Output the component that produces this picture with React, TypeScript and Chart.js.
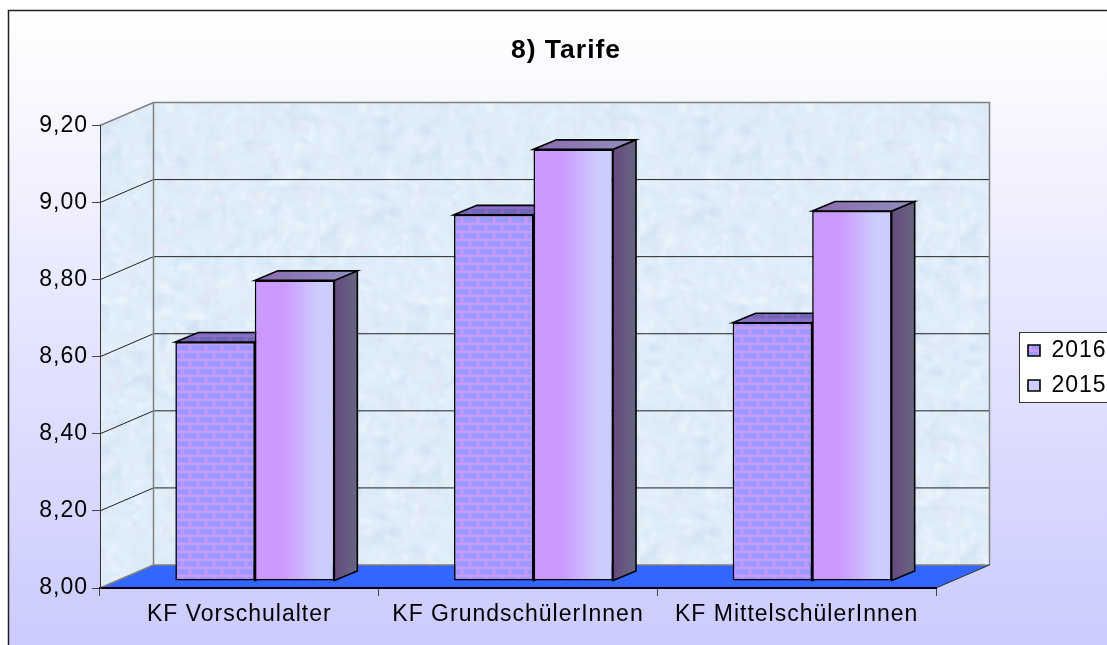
import React, { useEffect, useRef } from "react";
import { Chart, registerables } from "chart.js";

Chart.register(...registerables);

const categories = ["KF Vorschulalter", "KF GrundschülerInnen", "KF MittelschülerInnen"];
const seriesNames = ["2016", "2015"];
const values2016 = [8.62, 8.95, 8.67];
const values2015 = [8.78, 9.12, 8.96];
const titleText = "8) Tarife";
const yMin = 8;
const yMax = 9.2;
const yStep = 0.2;

const FONT = "'Liberation Sans', Arial, sans-serif";
const WALL_DX = 53.5;
const WALL_DY = 23;
const BAR_DX = 15.5;
const BAR_DY = 7;
const SIDE_DX = 23;
const SIDE_DY = 9.5;
const EDGE = 1.6;

function brickPattern(ctx: CanvasRenderingContext2D, mortar: string, brick: string) {
  const c = document.createElement("canvas");
  c.width = 16;
  c.height = 16;
  const g = c.getContext("2d")!;
  g.fillStyle = mortar;
  g.fillRect(0, 0, 16, 16);
  g.fillStyle = brick;
  g.fillRect(0, 0, 13.5, 5.5);
  g.fillRect(8, 8, 13.5, 5.5);
  g.fillRect(-8, 8, 13.5, 5.5);
  return ctx.createPattern(c, "repeat")!;
}

function marblePattern(ctx: CanvasRenderingContext2D) {
  const c = document.createElement("canvas");
  c.width = 320;
  c.height = 320;
  const g = c.getContext("2d")!;
  g.fillStyle = "#e0eefa";
  g.fillRect(0, 0, 320, 320);
  let s = 12345;
  const next = () => {
    s = (s * 1103515245 + 12345) & 0x7fffffff;
    return s / 0x7fffffff;
  };
  const tones = ["#cddff2", "#f0f8fe", "#d8e6f6", "#eaf5fc", "#e6e4f4", "#d6e9f4"];
  g.filter = "blur(1.6px)";
  for (let i = 0; i < 1500; i++) {
    g.globalAlpha = 0.25 + next() * 0.3;
    g.fillStyle = tones[Math.floor(next() * tones.length)];
    g.beginPath();
    g.ellipse(next() * 320, next() * 320, 2 + next() * 9, 1 + next() * 4, next() * 3.14, 0, 6.3);
    g.fill();
  }
  return ctx.createPattern(c, "repeat")!;
}

function poly(ctx: CanvasRenderingContext2D, pts: number[][], fill: any, stroke?: string, lw = 1) {
  ctx.beginPath();
  pts.forEach((p, i) => (i ? ctx.lineTo(p[0], p[1]) : ctx.moveTo(p[0], p[1])));
  ctx.closePath();
  if (fill) {
    ctx.fillStyle = fill;
    ctx.fill();
  }
  if (stroke) {
    ctx.strokeStyle = stroke;
    ctx.lineWidth = lw;
    ctx.lineJoin = "miter";
    ctx.stroke();
  }
}

const scene3d = {
  id: "scene3d",
  beforeUpdate(chart: any) {
    chart.ctx.letterSpacing = "1px";
  },
  afterLayout(chart: any) {
    chart.legend.left = 1016;
    chart.legend.right = 1112;
    chart.legend.top = 327;
    chart.legend.bottom = 425;
    chart.titleBlock.left = 366;
    chart.titleBlock.right = 766;
  },
  beforeDraw(chart: any) {
    const ctx: CanvasRenderingContext2D = chart.ctx;
    ctx.letterSpacing = "1px";
    const { left, right, top, bottom } = chart.chartArea;
    const W = chart.width;
    const H = chart.height;
    ctx.save();
    ctx.fillStyle = "#ffffff";
    ctx.fillRect(0, 0, W, H);
    const bg = ctx.createLinearGradient(0, 10, 0, 630);
    bg.addColorStop(0, "#ffffff");
    bg.addColorStop(1, "#ccccff");
    ctx.fillStyle = bg;
    ctx.fillRect(8, 10, W - 8, H - 10);
    ctx.strokeStyle = "#222222";
    ctx.lineWidth = 1.5;
    ctx.beginPath();
    ctx.moveTo(8.5, H);
    ctx.lineTo(8.5, 10.5);
    ctx.lineTo(W, 10.5);
    ctx.stroke();

    const marble = marblePattern(ctx);
    const bl = left + WALL_DX;
    const br = right + WALL_DX;
    const bt = top - WALL_DY;
    const bb = bottom - WALL_DY;
    poly(ctx, [[bl, bt], [br, bt], [br, bb], [bl, bb]], marble);
    poly(ctx, [[left, top], [bl, bt], [bl, bb], [left, bottom]], marble);
    poly(ctx, [[left, bottom], [right, bottom], [br, bb], [bl, bb]], "#3366ff");

    const y = chart.scales.y;
    ctx.strokeStyle = "#222222";
    ctx.lineWidth = 1;
    for (const t of y.ticks) {
      const py = y.getPixelForValue(t.value);
      if (t.value > yMin && t.value < yMax) {
        ctx.beginPath();
        ctx.moveTo(left, py);
        ctx.lineTo(bl, py - WALL_DY);
        ctx.lineTo(br, py - WALL_DY);
        ctx.stroke();
      }
    }
    ctx.strokeStyle = "#808080";
    ctx.lineWidth = 1.5;
    ctx.beginPath();
    ctx.moveTo(left, top);
    ctx.lineTo(bl, bt);
    ctx.lineTo(br, bt);
    ctx.lineTo(br, bb);
    ctx.moveTo(bl, bt);
    ctx.lineTo(bl, bb);
    ctx.lineTo(br, bb);
    ctx.moveTo(bl, bb);
    ctx.lineTo(left, bottom);
    ctx.stroke();
    ctx.strokeStyle = "#333333";
    ctx.lineWidth = 1;
    ctx.beginPath();
    ctx.moveTo(right, bottom);
    ctx.lineTo(br, bb);
    ctx.stroke();

    // legend box
    const lg = chart.legend;
    const boxLeft = lg.left + 3;
    const boxTop = lg.top + 5;
    const boxBottom = lg.bottom - 23;
    ctx.fillStyle = "#ffffff";
    ctx.fillRect(boxLeft, boxTop, lg.right - boxLeft, boxBottom - boxTop);
    ctx.strokeStyle = "#333333";
    ctx.lineWidth = 1;
    ctx.strokeRect(boxLeft + 0.5, boxTop + 0.5, lg.right - boxLeft, boxBottom - boxTop);
    ctx.restore();
  },
  beforeDatasetsDraw(chart: any) {
    const ctx: CanvasRenderingContext2D = chart.ctx;
    ctx.save();
    ctx.translate(BAR_DX, -BAR_DY);
    const topBrick = brickPattern(ctx, "#8a70c4", "#6f66b8");
    chart.data.datasets.forEach((_: any, di: number) => {
      chart.getDatasetMeta(di).data.forEach((bar: any) => {
        const { x, y, base, width } = bar.getProps(["x", "y", "base", "width"], true);
        const l = x - width / 2;
        const r = x + width / 2;
        const sg = ctx.createLinearGradient(r, 0, r + SIDE_DX, 0);
        sg.addColorStop(0, "#66497f");
        sg.addColorStop(1, "#666680");
        poly(ctx, [[r, y], [r + SIDE_DX, y - SIDE_DY], [r + SIDE_DX, base - SIDE_DY], [r, base]], sg, "#000000", EDGE);
        let tf: any = topBrick;
        if (di === 1) {
          const tg = ctx.createLinearGradient(l, 0, r + SIDE_DX, 0);
          tg.addColorStop(0, "#8c69ad");
          tg.addColorStop(1, "#9090c0");
          tf = tg;
        }
        poly(ctx, [[l, y], [l + SIDE_DX, y - SIDE_DY], [r + SIDE_DX, y - SIDE_DY], [r, y]], tf, "#000000", EDGE);
      });
    });
  },
  afterDatasetsDraw(chart: any) {
    chart.ctx.restore();
  },
};

export default function App() {
  const ref = useRef<HTMLCanvasElement>(null);
  useEffect(() => {
    document.body.style.margin = "0";
    const canvas = ref.current!;
    const ctx = canvas.getContext("2d")!;
    const bricks = brickPattern(ctx, "#cc99ff", "#9999ff");
    const legendFill = (from: string, to: string) => {
      const g = ctx.createLinearGradient(1028, 0, 1042, 0);
      g.addColorStop(0, from);
      g.addColorStop(1, to);
      return g;
    };
    const frontGradient = (c: any) => {
      if (c.dataIndex === undefined) return legendFill("#cc99ff", "#ccccff");
      const xs = c.chart.scales.x;
      const cx = xs ? xs.getPixelForValue(c.dataIndex) : NaN;
      const w = xs ? xs.width / categories.length * 0.5706 / 2 : NaN;
      if (!Number.isFinite(cx) || !Number.isFinite(w)) return "#cc99ff";
      const g = ctx.createLinearGradient(cx, 0, cx + w, 0);
      g.addColorStop(0, "#cc99ff");
      g.addColorStop(0.35, "#cc99ff");
      g.addColorStop(0.8, "#ccccff");
      g.addColorStop(1, "#ccccff");
      return g;
    };
    const chart = new Chart(canvas, {
      type: "bar",
      data: {
        labels: categories,
        datasets: [
          { label: seriesNames[0], data: values2016, base: yMin, borderSkipped: false, backgroundColor: (c: any) => (c.dataIndex === undefined ? legendFill("#9999ff", "#a9a0ff") : bricks), borderColor: "#000000", borderWidth: EDGE, clip: false },
          { label: seriesNames[1], data: values2015, base: yMin, borderSkipped: false, backgroundColor: frontGradient, borderColor: "#000000", borderWidth: EDGE, clip: false },
        ],
      },
      options: {
        responsive: false,
        animation: false,
        devicePixelRatio: 1,
        layout: { padding: { left: 0, right: 171, top: 0, bottom: 0 } },
        datasets: { bar: { categoryPercentage: 0.5706, barPercentage: 1 } },
        plugins: {
          title: {
            display: true,
            text: titleText,
            color: "#000000",
            font: { family: FONT, size: 26.5, weight: "bold" },
            padding: { top: 35, bottom: 58.7 },
          },
          legend: {
            position: "chartArea",
            align: "start",
            labels: {
              color: "#000000",
              font: { family: FONT, size: 23 },
              boxWidth: 12,
              boxHeight: 11,
              padding: 12,
            },
          },
          tooltip: { enabled: false },
        },
        scales: {
          x: {
            grid: { display: true, drawOnChartArea: false, drawTicks: true, tickLength: 8, color: "#444444", offset: true },
            border: { display: true, color: "#000000", width: 2 },
            ticks: { color: "#000000", font: { family: FONT, size: 23 }, padding: 5, maxRotation: 0, autoSkip: false },
            afterFit: (s: any) => { s.height = 57; },
          },
          y: {
            min: yMin,
            max: yMax,
            grid: { display: true, drawOnChartArea: false, drawTicks: true, tickLength: 8, color: "#444444" },
            border: { display: true, color: "#333333", width: 1 },
            ticks: {
              stepSize: yStep,
              color: "#000000",
              font: { family: FONT, size: 23 },
              padding: 4,
              callback: (v: any) => Number(v).toFixed(2).replace(".", ","),
            },
            afterFit: (s: any) => { s.width = 100; },
          },
        },
      },
      plugins: [scene3d],
    } as any);
    return () => chart.destroy();
  }, []);
  return <canvas ref={ref} width={1107} height={645} style={{ display: "block", width: 1107, height: 645 }} />;
}
